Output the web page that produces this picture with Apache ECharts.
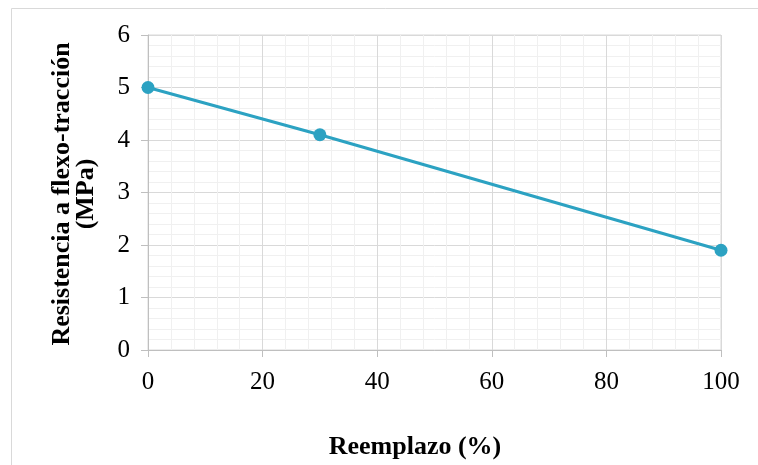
<!DOCTYPE html>
<html>
<head>
<meta charset="utf-8">
<script src="https://cdn.jsdelivr.net/npm/echarts@6/dist/echarts.min.js"></script>
<style>
  html, body { margin: 0; padding: 0; background: #fff; }
  #chart { width: 758px; height: 465px; }
</style>
</head>
<body>
<div id="chart"></div>
<script>
// Flexural-tensile strength against replacement percentage
const reemplazo = [0, 30, 100];
const resistencia = [5.0, 4.1, 1.9];
const xTitle = 'Reemplazo (%)';
const yTitle = ['Resistencia a flexo-tracción', '(MPa)'];

const chart = echarts.init(document.getElementById('chart'));
const font = '"Liberation Serif", "Times New Roman", serif';

chart.setOption({
  animation: false,
  backgroundColor: '#fff',
  grid: {
    left: 148, right: 37, top: 35, bottom: 115,
    show: true, borderColor: '#d9d9d9', borderWidth: 1
  },
  xAxis: {
    type: 'value', min: 0, max: 100, interval: 20,
    axisLine: { show: true, lineStyle: { color: '#bfbfbf', width: 1 } },
    axisTick: { show: true, length: 7, lineStyle: { color: '#bfbfbf' } },
    axisLabel: { color: '#000', fontFamily: font, fontSize: 25, margin: 20 },
    splitLine: { lineStyle: { color: '#d9d9d9', width: 1 } },
    minorTick: { show: false, splitNumber: 5 },
    minorSplitLine: { show: true, lineStyle: { color: '#f0f0f0', width: 1 } }
  },
  yAxis: {
    type: 'value', min: 0, max: 6, interval: 1,
    axisLine: { show: true, lineStyle: { color: '#bfbfbf', width: 1 } },
    axisTick: { show: true, length: 7, lineStyle: { color: '#bfbfbf' } },
    axisLabel: { color: '#000', fontFamily: font, fontSize: 25, margin: 18 },
    splitLine: { lineStyle: { color: '#d9d9d9', width: 1 } },
    minorTick: { show: false, splitNumber: 5 },
    minorSplitLine: { show: true, lineStyle: { color: '#f0f0f0', width: 1 } }
  },
  series: [{
    type: 'line',
    data: reemplazo.map((x, i) => [x, resistencia[i]]),
    lineStyle: { color: '#2ca2c2', width: 3 },
    itemStyle: { color: '#2ca2c2' },
    symbol: 'circle', symbolSize: 13,
    z: 5
  }],
  graphic: [
    {
      type: 'rect', left: 9, top: 6,
      shape: { width: 760, height: 470 },
      style: { fill: 'none', stroke: '#d9d9d9', lineWidth: 1 },
      silent: true
    },
    {
      type: 'text', x: 415, y: 447,
      style: {
        text: xTitle, font: 'bold 26px ' + font, fill: '#000',
        align: 'center', verticalAlign: 'middle'
      }
    },
    {
      type: 'text', x: 74, y: 194, rotation: Math.PI / 2,
      style: {
        text: yTitle.join('\n'), font: 'bold 26px ' + font, fill: '#000',
        align: 'center', verticalAlign: 'middle', lineHeight: 24
      }
    }
  ]
});
</script>
</body>
</html>
